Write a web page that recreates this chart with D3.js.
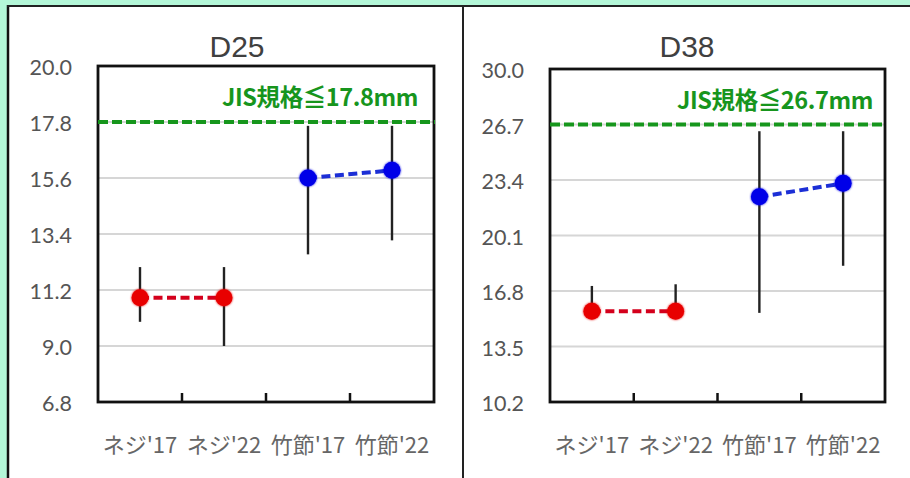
<!DOCTYPE html>
<html>
<head>
<meta charset="utf-8">
<script src="https://cdn.jsdelivr.net/npm/d3@7"></script>
<style>
  html, body { margin: 0; padding: 0; background: #b4f7d8; }
  svg { display: block; }
</style>
</head>
<body>
<svg id="chart" width="910" height="478"></svg>
<script>
// Categories shared by both panels
const categories = ["ネジ'17", "ネジ'22", "竹節'17", "竹節'22"];

// D25: mean with min / max range
const d25Mean = [10.9, 10.9, 15.6, 15.9];
const d25Max  = [12.1, 12.1, 17.65, 17.65];
const d25Min  = [9.95, 9.0, 12.6, 13.15];
const d25Ticks = [6.8, 9.0, 11.2, 13.4, 15.6, 17.8, 20.0];
const d25Limit = 17.8;

// D38: mean with min / max range
const d38Mean = [15.6, 15.6, 22.4, 23.2];
const d38Max  = [17.1, 17.2, 26.3, 26.3];
const d38Min  = [15.2, 15.2, 15.5, 18.3];
const d38Ticks = [10.2, 13.5, 16.8, 20.1, 23.4, 26.7, 30.0];
const d38Limit = 26.7;

// Which pairs of categories are joined, and their colours
const groups = [
  { idx: [0, 1], fill: "#e80000", line: "#d4001c" },
  { idx: [2, 3], fill: "#0000e8", line: "#1c2fd6" }
];

const svg = d3.select("#chart");

// Page frame: white sheet with dark left/top edge and a centre divider
svg.append("rect").attr("x", 0).attr("y", 0).attr("width", 910).attr("height", 478).attr("fill", "#b4f7d8");
svg.append("rect").attr("x", 8).attr("y", 6).attr("width", 902).attr("height", 472).attr("fill", "#ffffff");
svg.append("line").attr("x1", 8).attr("x2", 8).attr("y1", 5).attr("y2", 478).attr("stroke", "#111").attr("stroke-width", 2.5);
svg.append("line").attr("x1", 7).attr("x2", 910).attr("y1", 6).attr("y2", 6).attr("stroke", "#222").attr("stroke-width", 2);
svg.append("line").attr("x1", 463).attr("x2", 463).attr("y1", 5).attr("y2", 478).attr("stroke", "#222").attr("stroke-width", 2);

// Soft halo around markers
const defs = svg.append("defs");
const glow = defs.append("filter").attr("id", "halo").attr("x", "-50%").attr("y", "-50%").attr("width", "200%").attr("height", "200%");
glow.append("feGaussianBlur").attr("in", "SourceGraphic").attr("stdDeviation", 1.2).attr("result", "b");
const merge = glow.append("feMerge");
merge.append("feMergeNode").attr("in", "b");
merge.append("feMergeNode").attr("in", "SourceGraphic");

function drawPanel(opt) {
  const { title, titleX, left, right, top, bottom, ticks, mean, lo, hi, limit, limitLabel, labelX } = opt;
  const g = svg.append("g");

  const x = d3.scaleBand().domain(categories).range([left, right]).paddingInner(0).paddingOuter(0);
  const y = d3.scaleLinear().domain([ticks[0], ticks[ticks.length - 1]]).range([bottom, top]);

  // horizontal gridlines
  g.append("g").selectAll("line").data(ticks.slice(1, -1)).join("line")
    .attr("x1", left).attr("x2", right)
    .attr("y1", d => y(d)).attr("y2", d => y(d))
    .attr("stroke", "#d6d6d6").attr("stroke-width", 2);

  // y tick labels
  const yAxis = d3.axisLeft(y).tickValues(ticks).tickFormat(d3.format(".1f")).tickSize(0).tickPadding(0);
  const ya = g.append("g").attr("transform", `translate(${left - 26},2)`).call(yAxis);
  ya.select(".domain").remove();
  ya.selectAll("text")
    .attr("font-family", "Lato, 'DejaVu Sans', sans-serif")
    .attr("font-size", 21.5)
    .attr("fill", "#555555");

  // x category labels, with inward ticks at band edges
  const xAxis = d3.axisBottom(x).tickSize(0).tickPadding(0);
  const xa = g.append("g").attr("transform", `translate(0,${bottom + 51})`).call(xAxis);
  xa.select(".domain").remove();
  xa.selectAll("text")
    .attr("font-family", "'Noto Sans CJK JP', sans-serif")
    .attr("font-size", 22)
    .attr("fill", "#666666")
    .attr("dy", 0);

  g.append("g").selectAll("line").data(categories.slice(1)).join("line")
    .attr("x1", d => x(d)).attr("x2", d => x(d))
    .attr("y1", bottom).attr("y2", bottom - 9)
    .attr("stroke", "#111").attr("stroke-width", 2.5);

  // plot frame
  g.append("rect").attr("x", left).attr("y", top)
    .attr("width", right - left).attr("height", bottom - top)
    .attr("fill", "none").attr("stroke", "#111").attr("stroke-width", 2.8);

  // limit line and label
  g.append("line").attr("x1", left).attr("x2", right + 1)
    .attr("y1", y(limit)).attr("y2", y(limit))
    .attr("stroke", "#16961c").attr("stroke-width", 4)
    .attr("stroke-dasharray", "10,4");
  g.append("text").attr("x", labelX).attr("y", y(limit) - 16)
    .attr("text-anchor", "end")
    .attr("font-family", "'Noto Sans CJK JP', sans-serif")
    .attr("font-weight", "bold")
    .attr("font-size", 23.5)
    .attr("letter-spacing", -0.4)
    .attr("fill", "#17951d")
    .text(limitLabel);

  // range bars
  g.append("g").selectAll("line").data(categories).join("line")
    .attr("x1", d => x(d) + x.bandwidth() / 2).attr("x2", d => x(d) + x.bandwidth() / 2)
    .attr("y1", (d, i) => y(hi[i])).attr("y2", (d, i) => y(lo[i]))
    .attr("stroke", "#222222").attr("stroke-width", 2.4);

  // paired means: dashed connector + markers
  groups.forEach(grp => {
    const pts = grp.idx.map(i => [x(categories[i]) + x.bandwidth() / 2, y(mean[i])]);
    g.append("path").attr("d", d3.line()(pts))
      .attr("stroke", grp.line).attr("stroke-width", 4).attr("fill", "none")
      .attr("stroke-dasharray", "9,4.5");
    g.append("g").selectAll("circle").data(pts).join("circle")
      .attr("cx", d => d[0]).attr("cy", d => d[1]).attr("r", 8.5)
      .attr("fill", grp.fill).attr("filter", "url(#halo)");
  });

  // panel title
  g.append("text").attr("x", titleX).attr("y", 57)
    .attr("text-anchor", "middle")
    .attr("font-family", "'Liberation Sans', Arial, sans-serif")
    .attr("font-size", 30)
    .attr("fill", "#404040")
    .text(title);
}

drawPanel({
  title: "D25", titleX: 237,
  left: 98, right: 434, top: 66, bottom: 402,
  ticks: d25Ticks, mean: d25Mean, lo: d25Min, hi: d25Max,
  limit: d25Limit, limitLabel: "JIS規格≦17.8mm", labelX: 418
});

drawPanel({
  title: "D38", titleX: 687,
  left: 550, right: 885, top: 69, bottom: 402,
  ticks: d38Ticks, mean: d38Mean, lo: d38Min, hi: d38Max,
  limit: d38Limit, limitLabel: "JIS規格≦26.7mm", labelX: 873
});
</script>
</body>
</html>
